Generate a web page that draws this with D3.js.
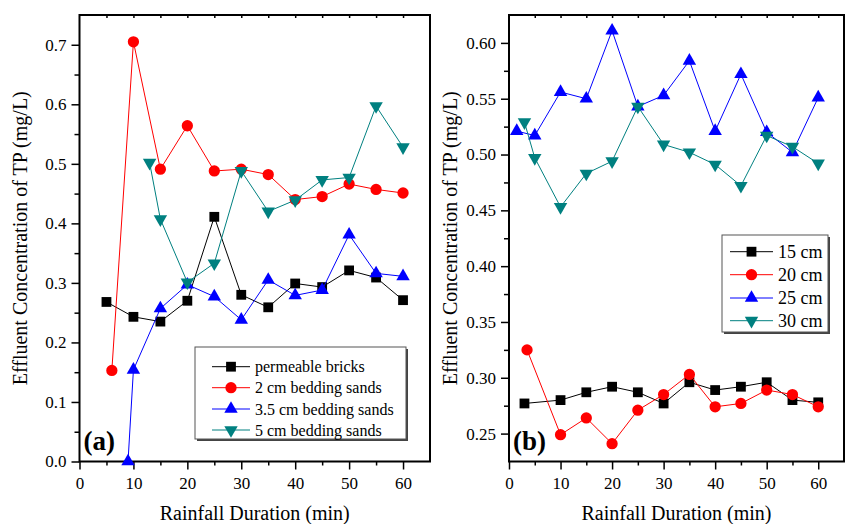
<!DOCTYPE html>
<html><head><meta charset="utf-8">
<script src="https://cdn.jsdelivr.net/npm/d3@7"></script>
<style>
html,body{margin:0;padding:0;background:#fff;}
svg{display:block;font-family:"Liberation Serif","Times New Roman",serif;}
</style></head>
<body><svg id="chart" width="846" height="524"></svg>
<script>
// ---- Panel (a) data ----
const xBricks = [5,10,15,20,25,30,35,40,45,50,55,60];
const permeableBricks = [0.268,0.243,0.235,0.270,0.411,0.280,0.259,0.299,0.293,0.321,0.309,0.271];
const xSand2 = [6,10,15,20,25,30,35,40,45,50,55,60];
const sand2cm = [0.153,0.705,0.491,0.564,0.488,0.491,0.482,0.440,0.445,0.466,0.457,0.451];
const xSand35 = [9,10,15,20,25,30,35,40,45,50,55,60];
const sand35cm = [0.0,0.154,0.257,0.297,0.277,0.238,0.305,0.279,0.288,0.381,0.316,0.311];
const xSand5 = [13,15,20,25,30,35,40,45,50,55,60];
const sand5cm = [0.502,0.407,0.301,0.333,0.488,0.420,0.439,0.473,0.477,0.597,0.528];
const labelsA = ["permeable bricks","2 cm bedding sands","3.5 cm bedding sands","5 cm bedding sands"];

// ---- Panel (b) data ----
const x15 = [3,10,15,20,25,30,35,40,45,50,55,60];
const cm15 = [0.277,0.280,0.287,0.292,0.287,0.277,0.296,0.289,0.292,0.296,0.280,0.278];
const x20 = [3.5,10,15,20,25,30,35,40,45,50,55,60];
const cm20 = [0.325,0.249,0.264,0.241,0.271,0.285,0.303,0.274,0.277,0.289,0.285,0.274];
const x25 = [1.5,5,10,15,20,25,30,35,40,45,50,55,60];
const cm25 = [0.521,0.517,0.556,0.550,0.611,0.543,0.553,0.584,0.521,0.572,0.520,0.502,0.551];
const x30 = [3,5,10,15,20,25,30,35,40,45,50,55,60];
const cm30 = [0.529,0.497,0.453,0.483,0.494,0.543,0.509,0.502,0.491,0.472,0.517,0.507,0.492];
const labelsB = ["15 cm","20 cm","25 cm","30 cm"];

// ---- ticks ----
const xTicks = [0,10,20,30,40,50,60];
const xMinor = [5,15,25,35,45,55];
const xTop = [5,10,15,20,25,30,35,40,45,50,55,60];
const yTicksA = [0,0.1,0.2,0.3,0.4,0.5,0.6,0.7];
const yMinorA = [0.05,0.15,0.25,0.35,0.45,0.55,0.65];
const yTicksB = [0.25,0.30,0.35,0.40,0.45,0.50,0.55,0.60];
const yMinorB = [0.275,0.325,0.375,0.425,0.475,0.525,0.575];

const colors = ["#000000","#ff0000","#0000ff","#008080"];
const shapes = ["square","circle","up","down"];

const svg = d3.select("#chart");

function marker(g, shape, color, x, y){
  let sym, rot = 0, size;
  if(shape==="square"){sym=d3.symbolSquare; size=96;}
  else if(shape==="circle"){sym=d3.symbolCircle; size=100;}
  else {sym=d3.symbolTriangle; size=78; if(shape==="down") rot=180;}
  g.append("path").attr("d", d3.symbol(sym, size)())
    .attr("transform", `translate(${x},${y}) rotate(${rot})`)
    .attr("fill", color).attr("stroke","none");
}

function panel(cfg){
  const {x0,x1,y0,y1,yDomain,yTicks,yMinor,yFmt,series,label,title} = cfg;
  const x = d3.scaleLinear().domain([0,65]).range([x0,x1]);
  const y = d3.scaleLinear().domain(yDomain).range([y1,y0]);
  const g = svg.append("g");

  // frame
  g.append("rect").attr("x",x0).attr("y",y0).attr("width",x1-x0).attr("height",y1-y0)
    .attr("fill","none").attr("stroke","#000").attr("stroke-width",2);

  const styleAxis = a => { a.select(".domain").remove(); a.selectAll("line").attr("stroke","#000").attr("stroke-width",1.5);
    a.selectAll("text").attr("font-family","Liberation Serif, serif").attr("font-size",17).attr("fill","#000"); };

  // bottom
  g.append("g").attr("transform",`translate(0,${y1})`)
    .call(d3.axisBottom(x).tickValues(xTicks).tickSize(8).tickPadding(7).tickFormat(d3.format("d")))
    .call(styleAxis);
  g.append("g").attr("transform",`translate(0,${y1})`)
    .call(d3.axisBottom(x).tickValues(xMinor).tickSize(4).tickFormat(""))
    .call(styleAxis);
  // top (inward)
  g.append("g").attr("transform",`translate(0,${y0})`)
    .call(d3.axisBottom(x).tickValues(xTop).tickSize(3).tickFormat(""))
    .call(styleAxis);
  // left
  g.append("g").attr("transform",`translate(${x0},0)`)
    .call(d3.axisLeft(y).tickValues(yTicks).tickSize(8).tickPadding(5).tickFormat(d3.format(yFmt)))
    .call(styleAxis);
  g.append("g").attr("transform",`translate(${x0},0)`)
    .call(d3.axisLeft(y).tickValues(yMinor).tickSize(5).tickFormat(""))
    .call(styleAxis);

  // series
  const line = d3.line().x(d=>x(d[0])).y(d=>y(d[1]));
  series.forEach((s,i)=>{
    const pts = s.xs.map((v,j)=>[v,s.ys[j]]);
    g.append("path").attr("d",line(pts)).attr("fill","none")
      .attr("stroke",colors[i]).attr("stroke-width",1);
    const mg = g.append("g");
    pts.forEach(p=>marker(mg,shapes[i],colors[i],x(p[0]),y(p[1])));
  });

  // panel label
  g.append("text").attr("x",x0+4).attr("y",y1-12).attr("font-size",27).attr("font-weight","bold")
    .attr("fill","#000").text(label);

  // axis titles
  g.append("text").attr("x",(x0+x1)/2).attr("y",520).attr("text-anchor","middle")
    .attr("font-size",20).attr("fill","#000").text("Rainfall Duration (min)");
  g.append("text").attr("transform",`translate(${cfg.ytx},${(y0+y1)/2}) rotate(-90)`)
    .attr("text-anchor","middle").attr("font-size",20).attr("fill","#000").text(title);

  return g;
}

function legend(cfg){
  const {bx,by,bw,bh,rowY,lx0,lx1,tx,fs,labels} = cfg;
  const g = svg.append("g");
  g.append("rect").attr("x",bx+2).attr("y",by+2).attr("width",bw).attr("height",bh).attr("fill","#444");
  g.append("rect").attr("x",bx).attr("y",by).attr("width",bw).attr("height",bh)
    .attr("fill","#fff").attr("stroke","#555").attr("stroke-width",1);
  labels.forEach((lab,i)=>{
    const yy = rowY[i];
    g.append("line").attr("x1",lx0).attr("x2",lx1).attr("y1",yy).attr("y2",yy)
      .attr("stroke",colors[i]).attr("stroke-width",1);
    marker(g,shapes[i],colors[i],(lx0+lx1)/2,yy);
    g.append("text").attr("x",tx).attr("y",yy).attr("dy","0.35em").attr("font-size",fs)
      .attr("fill","#000").text(lab);
  });
}

const title = "Effluent Concentration of TP (mg/L)";

panel({x0:79.5,x1:430,y0:15,y1:461.5,yDomain:[0,0.75],yTicks:yTicksA,yMinor:yMinorA,yFmt:".1f",
  label:"(a)",title,ytx:27,
  series:[{xs:xBricks,ys:permeableBricks},{xs:xSand2,ys:sand2cm},{xs:xSand35,ys:sand35cm},{xs:xSand5,ys:sand5cm}]});

panel({x0:509,x1:844,y0:15,y1:461.5,yDomain:[0.225,0.625],yTicks:yTicksB,yMinor:yMinorB,yFmt:".2f",
  label:"(b)",title,ytx:457,
  series:[{xs:x15,ys:cm15},{xs:x20,ys:cm20},{xs:x25,ys:cm25},{xs:x30,ys:cm30}]});

legend({bx:195,by:347,bw:211,bh:92,rowY:[366.7,387.7,409,430],lx0:212,lx1:250,tx:255,fs:16,labels:labelsA});
legend({bx:722,by:235,bw:106,bh:97,rowY:[251.7,274.7,298,320.7],lx0:730,lx1:773,tx:778,fs:18,labels:labelsB});
</script>
</body></html>
